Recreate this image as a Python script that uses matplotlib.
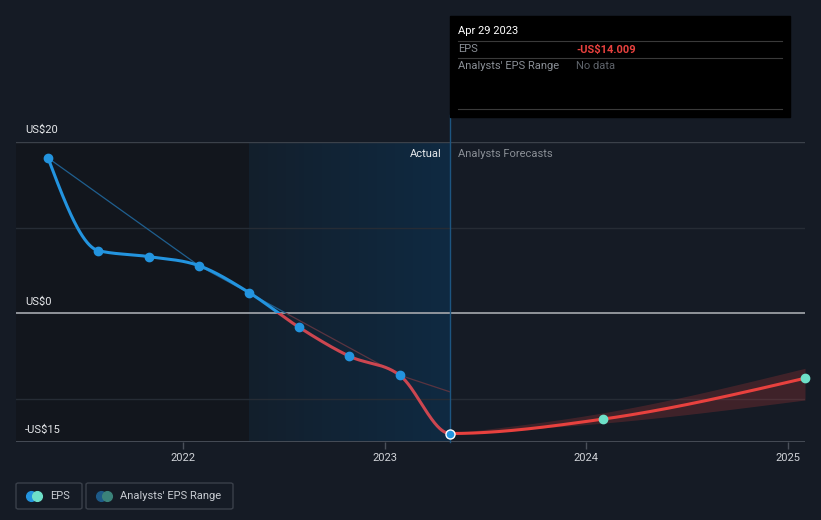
import numpy as np
import pandas as pd
import matplotlib
matplotlib.use("Agg")
import matplotlib.pyplot as plt
import matplotlib.dates as mdates
from matplotlib.patches import Rectangle, FancyBboxPatch
from matplotlib.lines import Line2D
from matplotlib.colors import LinearSegmentedColormap

plt.rcParams['font.family'] = ['Roboto', 'DejaVu Sans']

# --- data ---
actual_dates = ['2021-05-01', '2021-07-31', '2021-10-30', '2022-01-29', '2022-04-30',
                '2022-07-30', '2022-10-29', '2023-01-28', '2023-04-29']
actual_eps = [18.14, 7.33, 6.63, 5.58, 2.44, -1.63, -5.0, -7.21, -14.009]
forecast_dates = ['2024-01-31', '2025-01-31']
forecast_eps = [-12.33, -7.56]
range_dates = ['2023-04-29', '2024-01-31', '2025-01-31']
range_low = [-14.009, -12.8, -10.1]
range_high = [-14.009, -11.6, -6.4]
trend_dates = ['2021-05-01', '2022-01-29', '2023-01-28', '2023-04-29']
trend_eps = [18.14, 5.58, -7.21, -9.15]
past_year_start = '2022-04-30'
y_ticks = [20, 0, -15]
y_labels = ['US$20', 'US$0', '-US$15']
x_ticks = ['2022', '2023', '2024', '2025']

BG = '#151b25'
BLUE = '#2394df'
RED_ACT = '#cc4650'
RED_FC = '#e8413e'
MINT = '#6ee0c8'


def monotone(x, y, n=80):
    # d3 curveMonotoneX style cubic
    x = np.asarray(x, float); y = np.asarray(y, float)
    h = np.diff(x); s = np.diff(y) / h
    t = np.zeros_like(y)
    for i in range(1, len(y) - 1):
        p = (s[i - 1] * h[i] + s[i] * h[i - 1]) / (h[i - 1] + h[i])
        t[i] = (np.sign(s[i - 1]) + np.sign(s[i])) * min(abs(s[i - 1]), abs(s[i]), 0.5 * abs(p))
    t[0] = (3 * s[0] - t[1]) / 2 if len(y) > 2 else s[0]
    t[-1] = (3 * s[-1] - t[-2]) / 2 if len(y) > 2 else s[-1]
    xs, ys = [], []
    for i in range(len(h)):
        u = np.linspace(0, 1, n)
        h00 = 2 * u**3 - 3 * u**2 + 1; h10 = u**3 - 2 * u**2 + u
        h01 = -2 * u**3 + 3 * u**2; h11 = u**3 - u**2
        xs.append(x[i] + u * h[i])
        ys.append(h00 * y[i] + h10 * h[i] * t[i] + h01 * y[i + 1] + h11 * h[i] * t[i + 1])
    return np.concatenate(xs), np.concatenate(ys)


def d(s):
    return mdates.date2num(pd.to_datetime(s))


W, H = 821, 520
def fx(px): return px / W
def fy(py): return 1 - py / H


fig = plt.figure(figsize=(8.21, 5.2), dpi=100, facecolor=BG)
ax = fig.add_axes([fx(16), fy(442), fx(805) - fx(16), fy(142) - fy(442)])
ax.set_facecolor('none')
for sp in ax.spines.values():
    sp.set_visible(False)

x0, x1 = d('2021-03-04'), d('2025-01-31')
last = d(actual_dates[-1])

# background regions
ax.axvspan(x0, d(past_year_start), color='#12161d', zorder=0, lw=0)
cmap = LinearSegmentedColormap.from_list('g', ['#131f2c', '#0f2a42'])
ax.imshow(np.linspace(0, 1, 256).reshape(1, -1), extent=[d(past_year_start), last, -15, 20],
          aspect='auto', cmap=cmap, zorder=0.5)

# grid
ax.axhline(20, color='#3b414a', lw=1, zorder=1)
for g in [10, -10]:
    ax.axhline(g, color='#262c35', lw=1, zorder=1)
ax.axhline(0, color='#9a9ea4', lw=1.3, zorder=1)
ax.axhline(-15, color='#4a505a', lw=1.3, zorder=1)

# thin reference line
tx = d(trend_dates)
for col, rect in [('#1f5f8f', (x0, 0, x1 - x0, 40)), ('#5a3440', (x0, -40, x1 - x0, 40))]:
    ln, = ax.plot(tx, trend_eps, color=col, lw=0.9, zorder=2)
    ln.set_clip_path(Rectangle(rect[:2], rect[2], rect[3], transform=ax.transData))

# forecast band
bx, blo = monotone(d(range_dates), range_low)
_, bhi = monotone(d(range_dates), range_high)
ax.fill_between(bx, blo, bhi, color=RED_FC, alpha=0.2, lw=0, zorder=2)

# EPS curve (actual + forecast as one smooth line)
all_x = np.concatenate([d(actual_dates), d(forecast_dates)])
all_y = np.concatenate([actual_eps, forecast_eps])
cx, cy = monotone(all_x, all_y)
m = cx <= last
for col, rect in [(BLUE, (x0, 0, x1 - x0, 40)), (RED_ACT, (x0, -40, x1 - x0, 40))]:
    ln, = ax.plot(cx[m], cy[m], color=col, lw=2.2, zorder=3, solid_capstyle='round')
    ln.set_clip_path(Rectangle(rect[:2], rect[2], rect[3], transform=ax.transData))
ax.plot(cx[~m | (cx == last)], cy[~m | (cx == last)], color=RED_FC, lw=2.2, zorder=3)

# markers
ax.plot(d(actual_dates[:-1]), actual_eps[:-1], 'o', color=BLUE, ms=6, zorder=4)
ax.plot([last], [actual_eps[-1]], 'o', color=BLUE, mec='white', mew=1, ms=6.5, zorder=5)
ax.plot(d(forecast_dates), forecast_eps, 'o', color=MINT, ms=6, zorder=4, clip_on=False)

# divider line between actual / forecast
ax.plot([last, last], [-15, 23.1], color='#1d5580', lw=1, zorder=2, clip_on=False)
ax.annotate('Actual', (last, 20), xytext=(-8, -12), textcoords='offset pixels',
            ha='right', va='center', color='#e6e8eb', fontsize=8)
ax.annotate('Analysts Forecasts', (last, 20), xytext=(8, -12), textcoords='offset pixels',
            ha='left', va='center', color='#8a8f96', fontsize=8)

# axes
ax.set_xlim(x0, x1)
ax.set_ylim(-15, 20)
ax.set_yticks([])
ax.set_xticks(d([t + '-01-01' for t in x_ticks]))
ax.set_xticklabels(x_ticks)
ax.tick_params(axis='x', colors='#4a505a', length=5, width=1, pad=3, labelcolor='#d0d3d8',
               labelsize=8)
for v, lab in zip(y_ticks, y_labels):
    ax.annotate(lab, (x0, v), xytext=(9, 12), textcoords='offset pixels',
                ha='left', va='center', color='#e6e8eb', fontsize=8)

# tooltip
fig.add_artist(Rectangle((fx(450), fy(117)), fx(790) - fx(450), fy(16) - fy(117),
                         transform=fig.transFigure, color='black', zorder=10))
for yy in [41, 58, 109]:
    fig.add_artist(Line2D([fx(458), fx(782)], [fy(yy), fy(yy)], color='#3a3a3a', lw=0.8,
                          transform=fig.transFigure, zorder=11))
fig.text(fx(458), fy(31), 'Apr 29 2023', color='white', fontsize=8, va='center', zorder=12)
fig.text(fx(458), fy(49.5), 'EPS', color='#8a8f96', fontsize=8, va='center', zorder=12)
fig.text(fx(576), fy(49.5), '-US$14.009', color=RED_FC, fontsize=8, va='center',
         fontweight='bold', zorder=12)
fig.text(fx(458), fy(66), "Analysts' EPS Range", color='#8a8f96', fontsize=8, va='center',
         zorder=12)
fig.text(fx(576), fy(66), 'No data', color='#5e636a', fontsize=8, va='center', zorder=12)

# legend
for (l, r), lab, cols in [((16, 82), 'EPS', (BLUE, MINT)),
                          ((86, 233), "Analysts' EPS Range", ('#1d5a88', '#3b837a'))]:
    fig.add_artist(FancyBboxPatch((fx(l), fy(509)), fx(r) - fx(l), fy(483) - fy(509),
                                  boxstyle='round,pad=0,rounding_size=0.003',
                                  transform=fig.transFigure, fc='none', ec='#3a404a', lw=1))
    fig.add_artist(Line2D([fx(l + 15)], [fy(496)], marker='o', ms=7, color=cols[0],
                          transform=fig.transFigure))
    fig.add_artist(Line2D([fx(l + 21)], [fy(496)], marker='o', ms=7, color=cols[1],
                          transform=fig.transFigure))
    fig.text(fx(l + 34), fy(496), lab, color='#c8ccd2', fontsize=8, va='center')

fig.savefig('out.png', dpi=100, facecolor=BG)
